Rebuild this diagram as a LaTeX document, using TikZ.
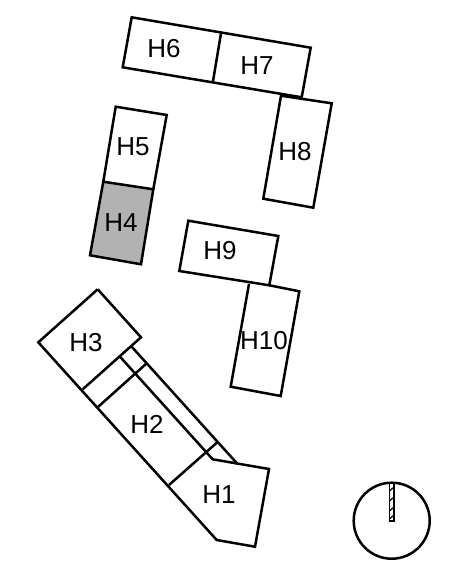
\documentclass[tikz,border=0pt]{standalone}
\usepackage{fontspec}
\setmainfont{Liberation Sans}
\definecolor{roomgray}{gray}{0.7}
\tikzset{
    wall/.style={draw=black, line width=2.5pt, line join=miter},
    roomlabel/.style={font=\fontsize{26}{26}\selectfont, inner sep=0pt}
}
\begin{document}
\begin{tikzpicture}[x=1pt, y=-1pt]
    \useasboundingbox (0,0) rectangle (462,573);

    % upper row
    \draw[wall] (131.7,17.3) -- (310.7,47.7) -- (301.7,97.3) -- (122.7,67.3) -- cycle;
    \draw[wall] (221,33.3) -- (212.7,83);
    \draw[wall] (281,95.7) -- (331.7,103.3) -- (313.3,207.7) -- (263.3,198.7) -- cycle;

    % left pair
    \draw[wall, fill=roomgray] (103.3,181.7) -- (153.3,189.3) -- (141,264.3) -- (90,255.3) -- cycle;
    \draw[wall] (103.3,181.7) -- (115.7,106.7) -- (166.7,115) -- (153.3,189.3);

    % middle pair
    \draw[wall] (188.3,220.7) -- (278.3,236) -- (269.3,285.3) -- (179.3,271) -- cycle;
    \draw[wall] (249,284) -- (230.7,386.7) -- (280.7,396) -- (299.3,291.3) -- (269.3,285.3);

    % long block
    \draw[wall] (97.7,289.3) -- (141,337.3) -- (82.7,389.3);
    \draw[wall] (97.7,289.3) -- (38.3,342.3) -- (216.7,540) -- (255,546.7) -- (269,469) -- (212.7,459.3) -- (120,356.7);
    \draw[wall] (131.7,346.7) -- (237.3,463.7);
    \draw[wall] (98.3,406.7) -- (146.7,363.3);
    \draw[wall] (169,485) -- (217.3,442.3);

    % compass
    \draw[wall] (391.7,520.7) circle (38);
    \draw[draw=black, line width=1.2pt, fill=white] (389.5,483) rectangle (394,521);
    \foreach \y in {491,501,511,519} {
        \draw[black, line width=1.2pt] (389.5,\y) -- (394,\y-4);
    }

    \node[roomlabel] (H1) at (219,495) {H1};
    \node[roomlabel] (H2) at (147,424) {H2};
    \node[roomlabel] (H3) at (86,342.5) {H3};
    \node[roomlabel] (H4) at (121,223) {H4};
    \node[roomlabel] (H5) at (133,147) {H5};
    \node[roomlabel] (H6) at (164,48.5) {H6};
    \node[roomlabel] (H7) at (257,66) {H7};
    \node[roomlabel] (H8) at (295,152) {H8};
    \node[roomlabel] (H9) at (220,251) {H9};
    \node[roomlabel] (H10) at (264,341) {H10};
\end{tikzpicture}
\end{document}
